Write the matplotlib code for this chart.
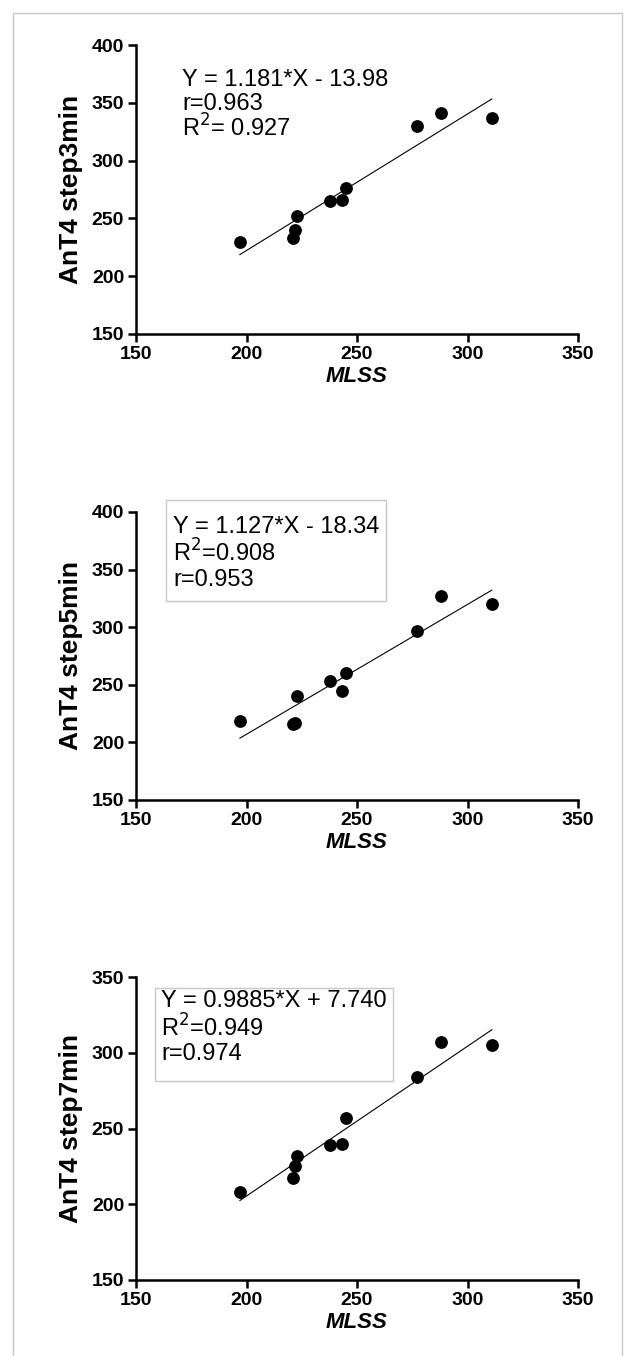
import matplotlib
matplotlib.use("Agg")
import matplotlib.pyplot as plt
from matplotlib.patches import Rectangle
import numpy as np

plt.rcParams['font.family'] = ['Liberation Sans', 'DejaVu Sans']

# Data
mlss = [197, 221, 222, 223, 238, 243, 245, 277, 288, 311]
step3 = [230, 233, 240, 252, 265, 266, 276, 330, 341, 337]
step5 = [219, 216, 217, 240, 253, 245, 260, 297, 327, 320]
step7 = [208, 217, 225, 232, 239, 240, 257, 284, 307, 305]

ylabels = ["AnT4 step3min", "AnT4 step5min", "AnT4 step7min"]
slopes = [1.181, 1.127, 0.9885]
intercepts = [-13.98, -18.34, 7.740]
eq_lines = [
    ["Y = 1.181*X - 13.98", "r=0.963", "R$^2$= 0.927"],
    ["Y = 1.127*X - 18.34", "R$^2$=0.908", "r=0.953"],
    ["Y = 0.9885*X + 7.740", "R$^2$=0.949", "r=0.974"],
]
ylims = [(150, 400), (150, 400), (150, 350)]
yticks = [[150, 200, 250, 300, 350, 400], [150, 200, 250, 300, 350, 400],
          [150, 200, 250, 300, 350]]
xticks = [150, 200, 250, 300, 350]
series = [step3, step5, step7]

W, H = 630, 1356
fig = plt.figure(figsize=(W / 100, H / 100), dpi=100)

# figure border
fig.patches.append(Rectangle((13 / W, -0.01), (622 - 13) / W, 1 - 13 / H + 0.01,
                             transform=fig.transFigure, fill=False,
                             edgecolor='#c8c8c8', linewidth=1.0))

left, width = 136 / W, 442 / W
panels_px = [(45, 334), (512, 800), (977, 1280)]
boxes = [None, (166, 500, 386, 601), (155, 988, 393, 1081)]
text_x = [182, 173, 161]
text_y = [[80, 104, 128], [527, 553, 580], [1001, 1028, 1054]]

for i in range(3):
    top, bot = panels_px[i]
    ax = fig.add_axes([left, 1 - bot / H, width, (bot - top) / H])
    ax.scatter(mlss, series[i], s=85, color='black', zorder=3, linewidths=0)
    xs = np.array([min(mlss), max(mlss)])
    ax.plot(xs, slopes[i] * xs + intercepts[i], color='black', lw=0.8)
    ax.set_xlim(150, 350)
    ax.set_ylim(*ylims[i])
    ax.set_xticks(xticks)
    ax.set_yticks(yticks[i])
    for s in ['top', 'right']:
        ax.spines[s].set_visible(False)
    for s in ['left', 'bottom']:
        ax.spines[s].set_linewidth(1.8)
    ax.tick_params(width=1.8, length=6, labelsize=14, direction='out', pad=2.5)
    for lab in ax.get_xticklabels() + ax.get_yticklabels():
        lab.set_fontweight('bold')
    ax.set_ylabel(ylabels[i], fontsize=19, fontweight='bold', labelpad=6)
    ax.set_xlabel("MLSS", fontsize=16, fontweight='bold', style='italic', labelpad=2)
    for line, yy in zip(eq_lines[i], text_y[i]):
        fig.text(text_x[i] / W, 1 - yy / H, line, fontsize=17, va='center', ha='left')
    if boxes[i] is not None:
        x0, y0, x1, y1 = boxes[i]
        fig.patches.append(Rectangle((x0 / W, 1 - y1 / H), (x1 - x0) / W, (y1 - y0) / H,
                                     transform=fig.transFigure, fill=False,
                                     edgecolor='#c8c8c8', linewidth=1.0))

fig.savefig("out.png", dpi=100)
